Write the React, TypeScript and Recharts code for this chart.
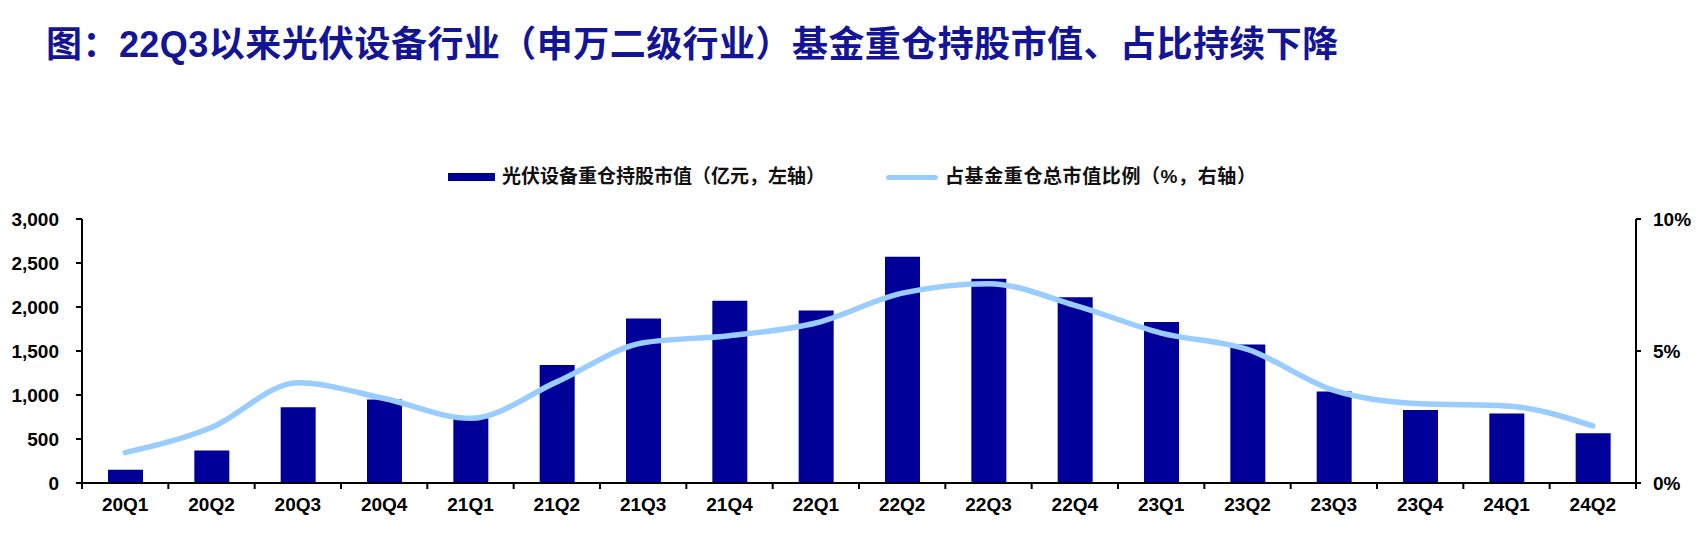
import { ComposedChart, Bar, Line, XAxis, YAxis, Legend } from "recharts";

const quarters = [
  "20Q1", "20Q2", "20Q3", "20Q4",
  "21Q1", "21Q2", "21Q3", "21Q4",
  "22Q1", "22Q2", "22Q3", "22Q4",
  "23Q1", "23Q2", "23Q3", "23Q4",
  "24Q1", "24Q2",
];
// 光伏设备重仓持股市值（亿元）
const holdingValue = [
  150, 370, 860, 950, 760, 1340, 1870, 2070, 1960,
  2570, 2320, 2110, 1830, 1575, 1040, 830, 790, 565,
];
// 占基金重仓总市值比例（%）
const holdingShare = [
  1.15, 2.1, 3.8, 3.2, 2.45, 3.83, 5.31, 5.58, 6.06,
  7.19, 7.55, 6.73, 5.68, 5.06, 3.51, 3.0, 2.92, 2.16,
];
const leftTicks = [0, 500, 1000, 1500, 2000, 2500, 3000];
const rightTicks = [0, 5, 10];

const chartData = quarters.map((q, i) => ({
  quarter: q,
  value: holdingValue[i],
  share: holdingShare[i],
}));

const NAVY = "#000099";
const SKY = "#99CCFF";
const latin = "'Liberation Sans', Arial, sans-serif";
const cjk = "'Liberation Sans', 'Noto Sans CJK SC', sans-serif";

function QuarterTick(props: any) {
  const { x, y, payload } = props;
  const half = payload.offset ?? 0;
  const isLast = payload.value === quarters[quarters.length - 1];
  return (
    <g>
      <line x1={x - half} x2={x - half} y1={y} y2={y + 6} stroke="#000" strokeWidth={2} />
      {isLast && (
        <line x1={x + half} x2={x + half} y1={y} y2={y + 6} stroke="#000" strokeWidth={2} />
      )}
      <text
        x={x}
        y={y + 15}
        dy="0.71em"
        textAnchor="middle"
        fill="#000"
        fontSize={19}
        fontWeight={700}
        fontFamily={latin}
      >
        {payload.value}
      </text>
    </g>
  );
}

function LegendBox() {
  return (
    <div
      style={{
        display: "flex",
        alignItems: "center",
        paddingLeft: 448,
        fontFamily: cjk,
        fontSize: 19,
        fontWeight: 700,
        color: "#111",
        lineHeight: "24px",
      }}
    >
      <span style={{ width: 47, height: 8, background: NAVY, marginRight: 7 }} />
      <span>光伏设备重仓持股市值（亿元，左轴）</span>
      <span
        style={{
          width: 52,
          height: 5,
          background: SKY,
          borderRadius: 3,
          marginLeft: 61,
          marginRight: 7,
        }}
      />
      <span style={{ letterSpacing: 0.6 }}>占基金重仓总市值比例（%，右轴）</span>
    </div>
  );
}

export default function App() {
  return (
    <div style={{ position: "absolute", top: 0, left: 0, width: 1707, height: 534, background: "#fff" }}>
      <svg width={1707} height={80} style={{ position: "absolute", top: 0, left: 0 }}>
        <text
          x={46}
          y={57}
          fontSize={36}
          fontWeight={700}
          letterSpacing={0.45}
          fill="#141496"
          fontFamily={cjk}
        >
          图：22Q3以来光伏设备行业（申万二级行业）基金重仓持股市值、占比持续下降
        </text>
      </svg>
      <ComposedChart
        width={1707}
        height={534}
        data={chartData}
        margin={{ top: 219, right: 0, bottom: 11, left: 0 }}
      >
        <XAxis
          dataKey="quarter"
          height={40}
          interval={0}
          tickSize={0}
          tickMargin={0}
          tickLine={false}
          axisLine={{ stroke: "#000", strokeWidth: 2 }}
          tick={<QuarterTick />}
        />
        <YAxis
          yAxisId="left"
          domain={[0, 3000]}
          ticks={leftTicks}
          interval={0}
          width={82}
          tickSize={6}
          tickMargin={17}
          axisLine={{ stroke: "#000", strokeWidth: 2 }}
          tickLine={{ stroke: "#000", strokeWidth: 2 }}
          tick={{ fill: "#000", fontSize: 19, fontWeight: 700, fontFamily: latin }}
          tickFormatter={(v: number) => v.toLocaleString("en-US")}
        />
        <YAxis
          yAxisId="right"
          orientation="right"
          domain={[0, 10]}
          ticks={rightTicks}
          interval={0}
          width={71}
          tickSize={5}
          tickMargin={12}
          axisLine={{ stroke: "#000", strokeWidth: 2 }}
          tickLine={{ stroke: "#000", strokeWidth: 2 }}
          tick={{ fill: "#000", fontSize: 19, fontWeight: 700, fontFamily: latin }}
          tickFormatter={(v: number) => `${v}%`}
        />
        <Legend
          verticalAlign="middle"
          align="center"
          content={() => <LegendBox />}
          wrapperStyle={{ top: 165, left: 0, width: 1707 }}
        />
        <Bar
          yAxisId="left"
          dataKey="value"
          fill={NAVY}
          barSize={35}
          isAnimationActive={false}
        />
        <Line
          yAxisId="right"
          dataKey="share"
          type="monotone"
          stroke={SKY}
          strokeWidth={5.5}
          strokeLinecap="round"
          dot={false}
          activeDot={false}
          isAnimationActive={false}
        />
      </ComposedChart>
    </div>
  );
}
